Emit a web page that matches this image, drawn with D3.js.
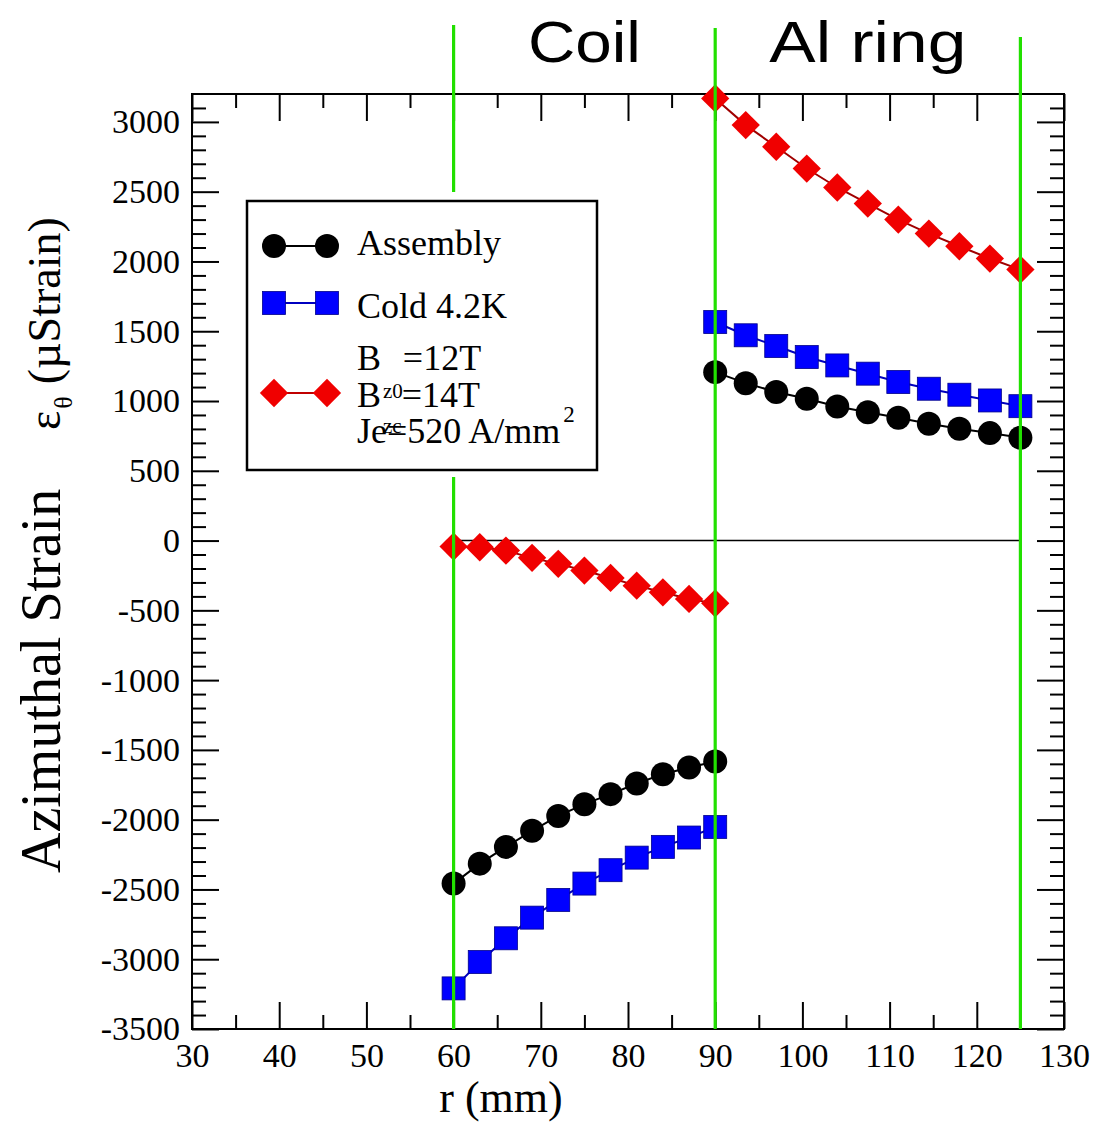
<!DOCTYPE html>
<html>
<head>
<meta charset="utf-8">
<script src="https://cdn.jsdelivr.net/npm/d3@7"></script>
<style>
  body { margin: 0; background: #fff; }
  svg { display: block; }
</style>
</head>
<body>
<div id="my_dataviz"></div>
<script>
// radial positions (mm)
var coilR = [60, 63, 66, 69, 72, 75, 78, 81, 84, 87, 90];
var ringR = [90, 93.5, 97, 100.5, 104, 107.5, 111, 114.5, 118, 121.5, 125];

// azimuthal strain (microstrain), coil part and Al ring part
var assemblyCoil = [-2458, -2315, -2195, -2080, -1973, -1889, -1817, -1741, -1674, -1626, -1583];
var assemblyRing = [1207, 1128, 1064, 1016, 961, 920, 880, 837, 801, 770, 737];
var coldCoil = [-3209, -3020, -2850, -2702, -2575, -2458, -2362, -2272, -2195, -2128, -2052];
var coldRing = [1566, 1471, 1394, 1315, 1255, 1196, 1136, 1088, 1045, 1004, 963];
var energCoil = [-43, -48, -72, -124, -167, -215, -268, -323, -371, -418, -450];
var energRing = [3168, 2977, 2822, 2666, 2530, 2415, 2300, 2200, 2109, 2021, 1942];

var xTicks = [30, 40, 50, 60, 70, 80, 90, 100, 110, 120, 130];
var yTicks = [-3500, -3000, -2500, -2000, -1500, -1000, -500, 0, 500, 1000, 1500, 2000, 2500, 3000];
var regionBounds = [60, 90, 125];
var regionNames = ["Coil", "Al ring"];

var W = 1099, H = 1125;
var margin = { top: 94, right: 35, bottom: 96, left: 192 },
    width = W - margin.left - margin.right,
    height = H - margin.top - margin.bottom;

var serif = "'Liberation Serif', 'Times New Roman', serif";
var sans = "'Liberation Sans', Arial, sans-serif";

var root = d3.select("#my_dataviz")
    .append("svg")
    .attr("width", W)
    .attr("height", H);

root.append("rect").attr("width", W).attr("height", H).attr("fill", "#fff");

var svg = root.append("g")
    .attr("transform", "translate(" + margin.left + "," + margin.top + ")");

var x = d3.scaleLinear().domain([30, 130]).range([0, width]);
var y = d3.scaleLinear().domain([-3500, 3200]).range([height, 0]);

var xMinor = d3.range(35, 130, 10);
var yMinor = d3.range(-3400, 3200, 100).filter(function(v) { return v % 500 !== 0; });

// plain labels, hyphen minus and no thousands separator
var plain = function(d) { return String(d); };

function styleAxis(g) {
    g.select(".domain").remove();
    g.selectAll("line").attr("stroke", "#000").attr("stroke-width", 2);
    g.selectAll("text")
        .style("font-family", serif)
        .style("font-size", "34px")
        .attr("fill", "#000");
}

// bottom
svg.append("g")
    .attr("transform", "translate(0," + height + ")")
    .call(d3.axisBottom(x).tickValues(xTicks).tickFormat(plain).tickSizeInner(-27).tickSizeOuter(0).tickPadding(14))
    .call(styleAxis);
svg.append("g")
    .attr("transform", "translate(0," + height + ")")
    .call(d3.axisBottom(x).tickValues(xMinor).tickFormat("").tickSizeInner(-14).tickSizeOuter(0))
    .call(styleAxis);
// top
svg.append("g")
    .call(d3.axisTop(x).tickValues(xTicks).tickFormat("").tickSizeInner(-27).tickSizeOuter(0))
    .call(styleAxis);
svg.append("g")
    .call(d3.axisTop(x).tickValues(xMinor).tickFormat("").tickSizeInner(-14).tickSizeOuter(0))
    .call(styleAxis);
// left
svg.append("g")
    .call(d3.axisLeft(y).tickValues(yTicks).tickFormat(plain).tickSizeInner(-27).tickSizeOuter(0).tickPadding(12))
    .call(styleAxis);
svg.append("g")
    .call(d3.axisLeft(y).tickValues(yMinor).tickFormat("").tickSizeInner(-14).tickSizeOuter(0))
    .call(styleAxis);
// right
svg.append("g")
    .attr("transform", "translate(" + width + ",0)")
    .call(d3.axisRight(y).tickValues(yTicks).tickFormat("").tickSizeInner(-27).tickSizeOuter(0))
    .call(styleAxis);
svg.append("g")
    .attr("transform", "translate(" + width + ",0)")
    .call(d3.axisRight(y).tickValues(yMinor).tickFormat("").tickSizeInner(-14).tickSizeOuter(0))
    .call(styleAxis);

// frame
svg.append("rect")
    .attr("width", width)
    .attr("height", height)
    .attr("fill", "none")
    .attr("stroke", "#000")
    .attr("stroke-width", 2);

// zero line across the coil + ring
svg.append("line")
    .attr("x1", x(regionBounds[0])).attr("x2", x(regionBounds[2]))
    .attr("y1", y(0)).attr("y2", y(0))
    .attr("stroke", "#000").attr("stroke-width", 1.5);

var line = d3.line()
    .x(function(d) { return x(d[0]); })
    .y(function(d) { return y(d[1]); });

function pts(rs, vals) {
    return rs.map(function(r, i) { return [r, vals[i]]; });
}

function marker(sel, shape, color) {
    if (shape === "circle") {
        sel.append("circle").attr("r", 12).attr("fill", color);
    } else if (shape === "square") {
        sel.append("rect").attr("x", -11.5).attr("y", -11.5).attr("width", 23).attr("height", 23)
            .attr("fill", color).attr("stroke", "#00008b").attr("stroke-width", 0.8);
    } else {
        sel.append("rect").attr("x", -10).attr("y", -10).attr("width", 20).attr("height", 20)
            .attr("transform", "rotate(45)")
            .attr("fill", color);
    }
}

function drawSeries(coilVals, ringVals, color, lineColor, shape) {
    [pts(coilR, coilVals), pts(ringR, ringVals)].forEach(function(seg) {
        svg.append("path")
            .datum(seg)
            .attr("fill", "none")
            .attr("stroke", lineColor)
            .attr("stroke-width", 2)
            .attr("d", line);
        svg.selectAll(null)
            .data(seg)
            .enter()
            .append("g")
            .attr("transform", function(d) { return "translate(" + x(d[0]) + "," + y(d[1]) + ")"; })
            .each(function() { marker(d3.select(this), shape, color); });
    });
}

drawSeries(assemblyCoil, assemblyRing, "#000", "#000", "circle");
drawSeries(coldCoil, coldRing, "#0000ff", "#0000c0", "square");
drawSeries(energCoil, energRing, "#f00000", "#a00000", "diamond");

// region boundaries (green) and names
var greenTop = [25, 28, 37]; // page y of each line's upper end
regionBounds.forEach(function(b, i) {
    var segs = i === 0 ? [[greenTop[i], 192], [477, H - margin.bottom]] : [[greenTop[i], H - margin.bottom]];
    segs.forEach(function(s) {
        root.append("line")
            .attr("x1", margin.left + x(b)).attr("x2", margin.left + x(b))
            .attr("y1", s[0]).attr("y2", s[1])
            .attr("stroke", "#22e000").attr("stroke-width", 3.2);
    });
});

var regionWidths = [113, 197];
regionNames.forEach(function(name, i) {
    var cx = margin.left + x((regionBounds[i] + regionBounds[i + 1]) / 2);
    root.append("text")
        .attr("x", cx - regionWidths[i] / 2)
        .attr("y", 62)
        .attr("textLength", regionWidths[i])
        .attr("lengthAdjust", "spacingAndGlyphs")
        .style("font-family", sans)
        .style("font-size", "58px")
        .attr("fill", "#000")
        .text(name);
});

// axis titles
root.append("text")
    .attr("x", 501)
    .attr("y", 1112)
    .attr("text-anchor", "middle")
    .style("font-family", serif)
    .style("font-size", "44px")
    .text("r (mm)");

root.append("text")
    .attr("transform", "translate(60,873) rotate(-90)")
    .style("font-family", serif)
    .style("font-size", "56px")
    .text("Azimuthal Strain");

var yt = root.append("text")
    .attr("transform", "translate(60,430) rotate(-90)")
    .style("font-family", serif)
    .style("font-size", "46px");
yt.append("tspan").text("\u03b5");
yt.append("tspan").attr("dy", 12).attr("dx", 2).style("font-size", "26px").text("\u03b8");
yt.append("tspan").attr("dy", -12).attr("dx", 12).text("(\u00b5Strain)");

// legend
var legend = root.append("g");
legend.append("rect")
    .attr("x", 247).attr("y", 201)
    .attr("width", 350).attr("height", 269)
    .attr("fill", "#fff")
    .attr("stroke", "#000")
    .attr("stroke-width", 2.5);

var legendItems = [
    { shape: "circle", color: "#000", lineColor: "#000", y: 246 },
    { shape: "square", color: "#0000ff", lineColor: "#0000c0", y: 303 },
    { shape: "diamond", color: "#f00000", lineColor: "#c00000", y: 393 }
];
legendItems.forEach(function(it) {
    legend.append("line")
        .attr("x1", 274).attr("x2", 327)
        .attr("y1", it.y).attr("y2", it.y)
        .attr("stroke", it.lineColor).attr("stroke-width", 2);
    [274, 327].forEach(function(px) {
        var g = legend.append("g").attr("transform", "translate(" + px + "," + it.y + ")");
        marker(g, it.shape, it.color);
    });
});

function legendText(yPos) {
    return legend.append("text")
        .attr("x", 357).attr("y", yPos)
        .style("font-family", serif)
        .style("font-size", "36px")
        .attr("fill", "#000");
}
legendText(255).text("Assembly");
legendText(318).text("Cold 4.2K");

// xmgrace-style subscripts sit low, between the lines
var l1 = legendText(370);
l1.append("tspan").text("B");
l1.append("tspan").attr("dy", 28).attr("dx", 2).style("font-size", "21px").text("z0");
l1.append("tspan").attr("dy", -28).text("=12T");

var l2 = legendText(407);
l2.append("tspan").text("B");
l2.append("tspan").attr("dy", 26).attr("dx", 2).style("font-size", "21px").text("zc");
l2.append("tspan").attr("dy", -26).text("=14T");

var l3 = legendText(443);
l3.append("tspan").text("Je=520 A/mm");
l3.append("tspan").attr("dy", -21).attr("dx", 3).style("font-size", "23px").text("2");
</script>
</body>
</html>
